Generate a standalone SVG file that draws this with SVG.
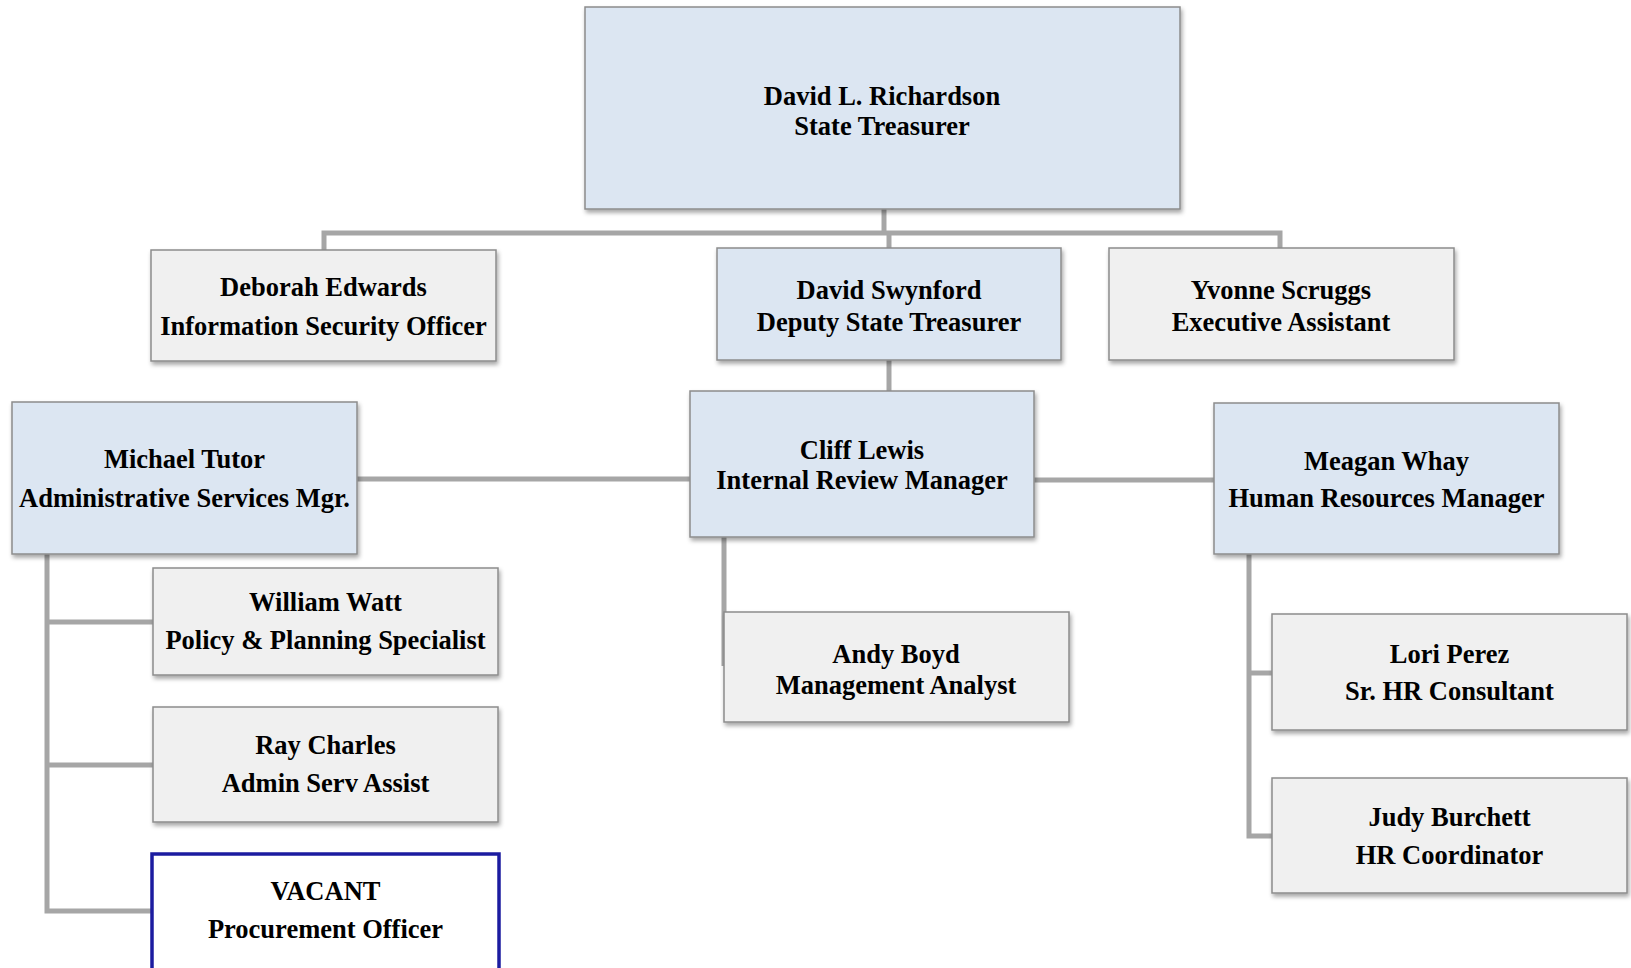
<svg xmlns="http://www.w3.org/2000/svg" width="1631" height="968" viewBox="0 0 1631 968">
<defs>
<filter id="sh" x="-5%" y="-5%" width="115%" height="125%">
<feDropShadow dx="1.5" dy="3" stdDeviation="2" flood-color="#000" flood-opacity="0.35"/>
</filter>
<style>
.blue{fill:#dce6f2;stroke:#8c8c8c;stroke-width:1.5;filter:url(#sh)}
.grey{fill:#f0f0f0;stroke:#8c8c8c;stroke-width:1.5;filter:url(#sh)}
.vac{fill:#ffffff;stroke:#1c1ca0;stroke-width:3.5}
.t{font-family:"Liberation Serif","Times New Roman",serif;font-weight:bold;font-size:26.5px;fill:#000;text-anchor:middle}
.c{fill:none;stroke:#a6a6a6;stroke-width:5;stroke-linejoin:miter;stroke-linecap:butt}
</style>
</defs>
<rect width="1631" height="968" fill="#ffffff"/>
<g id="connectors">
<path class="c" d="M884 209 V233"/>
<path class="c" d="M324 250 V233 H1280 V248"/>
<path class="c" d="M889 233 V248"/>
<path class="c" d="M889 360 V391"/>
<path class="c" d="M357 479 H690"/>
<path class="c" d="M1034 480 H1214"/>
<path class="c" d="M724 537 V666"/>
<path class="c" d="M47 554 V911 H151"/>
<path class="c" d="M47 622 H153"/>
<path class="c" d="M47 765 H153"/>
<path class="c" d="M1249 554 V836 H1272"/>
<path class="c" d="M1249 673 H1272"/>
</g>
<g id="richardson">
<rect class="blue" x="585" y="7" width="595" height="202"/>
<text class="t" x="882" y="105">David L. Richardson</text>
<text class="t" x="882" y="135">State Treasurer</text>
</g>
<g id="edwards">
<rect class="grey" x="151" y="250" width="345" height="111"/>
<text class="t" x="323.5" y="296">Deborah Edwards</text>
<text class="t" x="323.5" y="335">Information Security Officer</text>
</g>
<g id="swynford">
<rect class="blue" x="717" y="248" width="344" height="112"/>
<text class="t" x="889" y="299">David Swynford</text>
<text class="t" x="889" y="331">Deputy State Treasurer</text>
</g>
<g id="scruggs">
<rect class="grey" x="1109" y="248" width="345" height="112"/>
<text class="t" x="1281" y="299">Yvonne Scruggs</text>
<text class="t" x="1281" y="331">Executive Assistant</text>
</g>
<g id="tutor">
<rect class="blue" x="12" y="402" width="345" height="152"/>
<text class="t" x="184.5" y="468">Michael Tutor</text>
<text class="t" x="184.5" y="507">Administrative Services Mgr.</text>
</g>
<g id="lewis">
<rect class="blue" x="690" y="391" width="344" height="146"/>
<text class="t" x="862" y="459">Cliff Lewis</text>
<text class="t" x="862" y="489">Internal Review Manager</text>
</g>
<g id="whay">
<rect class="blue" x="1214" y="403" width="345" height="151"/>
<text class="t" x="1386.5" y="470">Meagan Whay</text>
<text class="t" x="1386.5" y="507">Human Resources Manager</text>
</g>
<g id="watt">
<rect class="grey" x="153" y="568" width="345" height="107"/>
<text class="t" x="325.5" y="611">William Watt</text>
<text class="t" x="325.5" y="649">Policy &amp; Planning Specialist</text>
</g>
<g id="charles">
<rect class="grey" x="153" y="707" width="345" height="115"/>
<text class="t" x="325.5" y="754">Ray Charles</text>
<text class="t" x="325.5" y="792">Admin Serv Assist</text>
</g>
<g id="vacant">
<rect class="vac" x="152" y="854" width="347" height="118"/>
<text class="t" x="325.5" y="900">VACANT</text>
<text class="t" x="325.5" y="938">Procurement Officer</text>
</g>
<g id="boyd">
<rect class="grey" x="724" y="612" width="345" height="110"/>
<text class="t" x="896" y="663">Andy Boyd</text>
<text class="t" x="896" y="694">Management Analyst</text>
</g>
<g id="perez">
<rect class="grey" x="1272" y="614" width="355" height="116"/>
<text class="t" x="1449.5" y="663">Lori Perez</text>
<text class="t" x="1449.5" y="700">Sr. HR Consultant</text>
</g>
<g id="burchett">
<rect class="grey" x="1272" y="778" width="355" height="115"/>
<text class="t" x="1449.5" y="826">Judy Burchett</text>
<text class="t" x="1449.5" y="864">HR Coordinator</text>
</g>
</svg>
